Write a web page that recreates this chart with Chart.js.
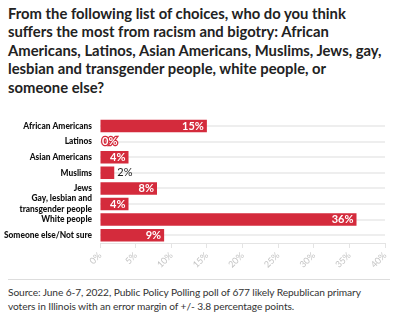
<!DOCTYPE html>
<html>
<head>
<meta charset="utf-8">
<script src="https://cdn.jsdelivr.net/npm/chart.js@4"></script>
<style>
  body { margin: 0; width: 395px; height: 323px; background: #fff; position: relative; overflow: hidden; font-family: Lato, "Open Sans", sans-serif; }
  .title { position: absolute; left: 8px; top: 4px; width: 385px; font-weight: bold; font-size: 14.8px; line-height: 18.4px; color: #222; }
  #chart { position: absolute; left: 0; top: 105px; }
  .rule { position: absolute; left: 8px; right: 5px; top: 279px; border-top: 1px solid #ddd; }
  .source { position: absolute; left: 8px; top: 286px; font-size: 10.2px; letter-spacing: -0.1px; line-height: 13.5px; color: #333; white-space: nowrap; }
</style>
</head>
<body>
<div class="title">From the following list of choices, who do you think<br>suffers the most from racism and bigotry: African<br>Americans, Latinos, Asian Americans, Muslims, Jews, gay,<br>lesbian and transgender people, white people, or<br>someone else?</div>
<canvas id="chart" width="395" height="170"></canvas>
<div class="rule"></div>
<div class="source">Source: June 6-7, 2022, Public Policy Polling poll of 677 likely Republican primary<br>voters in Illinois with an error margin of +/- 3.8 percentage points.</div>
<script>
const categories = [
  'African Americans',
  'Latinos',
  'Asian Americans',
  'Muslims',
  'Jews',
  ['Gay, lesbian and', 'transgender people'],
  'White people',
  'Someone else/Not sure'
];
const shares = [15, 0, 4, 2, 8, 4, 36, 9];
const xTicks = [0, 5, 10, 15, 20, 25, 30, 35, 40];

const barRed = '#d42b3c';

// value labels: inside the bar end when it fits, outside for tiny bars
const valueLabels = {
  id: 'valueLabels',
  afterDatasetsDraw(chart) {
    const ctx = chart.ctx;
    const meta = chart.getDatasetMeta(0);
    ctx.save();
    ctx.textBaseline = 'middle';
    meta.data.forEach((bar, i) => {
      const v = shares[i];
      const text = v + '%';
      ctx.font = 'bold 11px Lato, sans-serif';
      if (v === 0) {
        ctx.textAlign = 'left';
        ctx.lineWidth = 2.5;
        ctx.strokeStyle = barRed;
        ctx.strokeText(text, bar.base + 2, bar.y);
        ctx.fillStyle = '#fff';
        ctx.fillText(text, bar.base + 2, bar.y);
      } else if (v < 3) {
        ctx.textAlign = 'left';
        ctx.fillStyle = '#222';
        ctx.font = '11px Lato, sans-serif';
        ctx.fillText(text, bar.x + 3, bar.y);
      } else {
        ctx.textAlign = 'right';
        ctx.fillStyle = '#fff';
        ctx.fillText(text, bar.x - 3, bar.y);
      }
    });
    ctx.restore();
  }
};

new Chart(document.getElementById('chart'), {
  type: 'bar',
  data: {
    labels: categories,
    datasets: [{
      data: shares,
      backgroundColor: barRed,
      barPercentage: 0.8,
      categoryPercentage: 1
    }]
  },
  options: {
    indexAxis: 'y',
    responsive: false,
    animation: false,
    devicePixelRatio: 1,
    layout: { padding: { top: 5, right: 10, left: 0, bottom: 0 } },
    plugins: {
      legend: { display: false },
      tooltip: { enabled: false }
    },
    scales: {
      x: {
        min: 0,
        max: 40,
        afterBuildTicks: (scale) => { scale.ticks = xTicks.map(v => ({ value: v })); },
        afterFit: (scale) => { scale.height = 32; },
        border: { display: true, color: '#e4e4e4' },
        grid: { drawOnChartArea: false, drawTicks: true, tickLength: 5, color: '#e4e4e4' },
        ticks: {
          minRotation: 45,
          maxRotation: 45,
          color: '#c4c4c4',
          font: { family: 'Lato', size: 9 },
          padding: 2,
          callback: (v) => v + '%'
        }
      },
      y: {
        afterFit: (scale) => { scale.width = 100; },
        border: { display: false },
        grid: { offset: false, drawTicks: false, color: '#eeeeee', lineWidth: 2 },
        ticks: {
          autoSkip: false,
          color: '#111',
          padding: 8,
          font: { family: 'Lato', size: 8.4, weight: '900', lineHeight: 1.25 }
        }
      }
    }
  },
  plugins: [valueLabels]
});
</script>
</body>
</html>
